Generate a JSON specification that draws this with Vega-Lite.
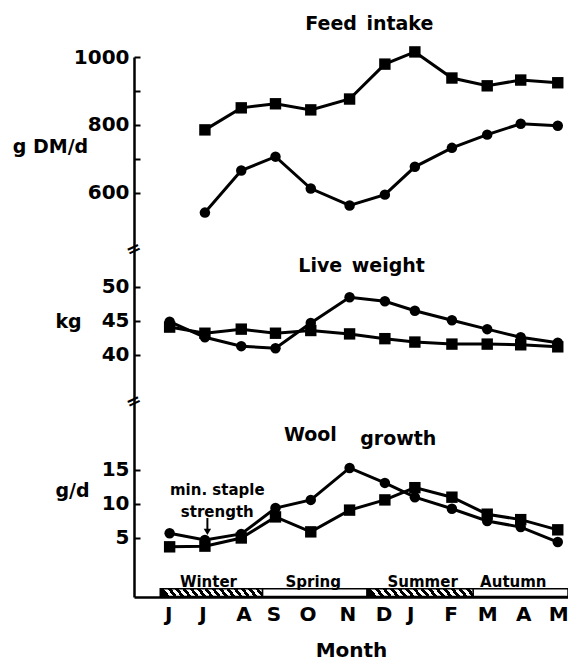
{
  "$schema": "https://vega.github.io/schema/vega-lite/v6.json",
  "width": 434,
  "height": 540,
  "autosize": {"type": "none"},
  "padding": {"left": 134, "top": 57, "right": 0, "bottom": 71},
  "background": "white",
  "config": {
    "view": {"stroke": null},
    "font": "DejaVu Sans",
    "axisX": {
      "domainColor": "black", "domainWidth": 2.5, "ticks": false, "grid": false,
      "labelFont": "DejaVu Sans", "labelFontWeight": "bold", "labelFontSize": 20, "labelColor": "black",
      "labelPadding": 7, "labelFlush": false, "labelOverlap": false,
      "titleFont": "DejaVu Sans", "titleFontWeight": "bold", "titleFontSize": 20, "titleColor": "black", "titlePadding": 16
    },
    "axisY": {
      "domainColor": "black", "domainWidth": 2.5, "grid": false,
      "tickColor": "black", "tickWidth": 2, "tickSize": -6,
      "labelFont": "DejaVu Sans", "labelFontWeight": "bold", "labelFontSize": 20, "labelColor": "black",
      "labelPadding": 11, "labelOverlap": false, "format": "d",
      "titleFont": "DejaVu Sans", "titleFontWeight": "bold", "titleFontSize": 19, "titleColor": "black",
      "titleAngle": 0, "titleAlign": "center", "titleBaseline": "middle"
    },
    "text": {"font": "DejaVu Sans", "fontWeight": "bold", "color": "black"},
    "line": {"color": "black", "strokeWidth": 3},
    "point": {"color": "black", "filled": true, "opacity": 1}
  },
  "datasets": {
    "d": [
      {"month": "Jun", "m": 0, "grp": "sq", "feed": null, "lw": 44.1, "wool": 3.7},
      {"month": "Jul", "m": 1, "grp": "sq", "feed": 785, "lw": 43.2, "wool": 3.8},
      {"month": "Aug", "m": 2.03, "grp": "sq", "feed": 850, "lw": 43.8, "wool": 5.0},
      {"month": "Sep", "m": 3, "grp": "sq", "feed": 862, "lw": 43.2, "wool": 8.1},
      {"month": "Oct", "m": 4, "grp": "sq", "feed": 844, "lw": 43.6, "wool": 5.9},
      {"month": "Nov", "m": 5.1, "grp": "sq", "feed": 876, "lw": 43.1, "wool": 9.1},
      {"month": "Dec", "m": 6.1, "grp": "sq", "feed": 979, "lw": 42.4, "wool": 10.6},
      {"month": "Jan", "m": 6.95, "grp": "sq", "feed": 1015, "lw": 41.9, "wool": 12.4},
      {"month": "Feb", "m": 8, "grp": "sq", "feed": 938, "lw": 41.6, "wool": 11.0},
      {"month": "Mar", "m": 9, "grp": "sq", "feed": 915, "lw": 41.6, "wool": 8.5},
      {"month": "Apr", "m": 9.95, "grp": "sq", "feed": 932, "lw": 41.5, "wool": 7.7},
      {"month": "May", "m": 11, "grp": "sq", "feed": 924, "lw": 41.2, "wool": 6.2},
      {"month": "Jun", "m": 0, "grp": "ci", "feed": null, "lw": 44.9, "wool": 5.7},
      {"month": "Jul", "m": 1, "grp": "ci", "feed": 541, "lw": 42.6, "wool": 4.7},
      {"month": "Aug", "m": 2.03, "grp": "ci", "feed": 665, "lw": 41.3, "wool": 5.6},
      {"month": "Sep", "m": 3, "grp": "ci", "feed": 706, "lw": 41.0, "wool": 9.4},
      {"month": "Oct", "m": 4, "grp": "ci", "feed": 612, "lw": 44.7, "wool": 10.6},
      {"month": "Nov", "m": 5.1, "grp": "ci", "feed": 562, "lw": 48.5, "wool": 15.3},
      {"month": "Dec", "m": 6.1, "grp": "ci", "feed": 594, "lw": 47.9, "wool": 13.1},
      {"month": "Jan", "m": 6.95, "grp": "ci", "feed": 676, "lw": 46.5, "wool": 11.0},
      {"month": "Feb", "m": 8, "grp": "ci", "feed": 732, "lw": 45.1, "wool": 9.3},
      {"month": "Mar", "m": 9, "grp": "ci", "feed": 771, "lw": 43.8, "wool": 7.5},
      {"month": "Apr", "m": 9.95, "grp": "ci", "feed": 803, "lw": 42.6, "wool": 6.6},
      {"month": "May", "m": 11, "grp": "ci", "feed": 797, "lw": 41.8, "wool": 4.4}
    ],
    "seasons": [
      {"season": "Winter", "s": -0.26, "e": 2.63, "mid": 1.1, "hatch": true},
      {"season": "Spring", "s": 2.63, "e": 5.6, "mid": 4.07, "hatch": false},
      {"season": "Summer", "s": 5.6, "e": 8.6, "mid": 7.17, "hatch": true},
      {"season": "Autumn", "s": 8.6, "e": 11.29, "mid": 9.74, "hatch": false}
    ]
  },
  "layer": [
    {
      "data": {"name": "seasons"},
      "mark": {"type": "rect", "fill": "white", "stroke": "black", "strokeWidth": 1.5},
      "encoding": {
        "x": {"field": "s", "type": "quantitative", "title": "Month", "scale": {"domain": [-1.01, 11.29], "nice": false, "zero": false},
          "axis": {"title": "Month", "labelOverlap": false, "labelFlush": false, "values": [-0.04, 0.93, 2.09, 2.94, 3.91, 5.04, 6.06, 6.82, 7.96, 9, 10.02, 11.01], "labelExpr": "['J','J','A','S','O','N','D','J','F','M','A','M'][indexof([-0.04, 0.93, 2.09, 2.94, 3.91, 5.04, 6.06, 6.82, 7.96, 9, 10.02, 11.01], datum.value)]"}},
        "x2": {"field": "e"},
        "y": {"datum": -2.45, "scale": {"domain": [-3.68, 75.74], "nice": false, "zero": false}, "axis": null},
        "y2": {"datum": -3.6}
      }
    },
    {
      "data": {"name": "seasons"},
      "transform": [{"filter": "datum.hatch"}],
      "mark": {
        "type": "rect", "stroke": "black", "strokeWidth": 1.5,
        "fill": {
          "gradient": "linear", "x1": 0, "y1": 0.06, "x2": 1, "y2": 0,
          "stops": [
            {"offset": 0, "color": "black"}, {"offset": 0.036, "color": "black"}, {"offset": 0.036, "color": "white"}, {"offset": 0.071, "color": "white"},
            {"offset": 0.071, "color": "black"}, {"offset": 0.107, "color": "black"}, {"offset": 0.107, "color": "white"}, {"offset": 0.143, "color": "white"},
            {"offset": 0.143, "color": "black"}, {"offset": 0.179, "color": "black"}, {"offset": 0.179, "color": "white"}, {"offset": 0.214, "color": "white"},
            {"offset": 0.214, "color": "black"}, {"offset": 0.25, "color": "black"}, {"offset": 0.25, "color": "white"}, {"offset": 0.286, "color": "white"},
            {"offset": 0.286, "color": "black"}, {"offset": 0.321, "color": "black"}, {"offset": 0.321, "color": "white"}, {"offset": 0.357, "color": "white"},
            {"offset": 0.357, "color": "black"}, {"offset": 0.393, "color": "black"}, {"offset": 0.393, "color": "white"}, {"offset": 0.429, "color": "white"},
            {"offset": 0.429, "color": "black"}, {"offset": 0.464, "color": "black"}, {"offset": 0.464, "color": "white"}, {"offset": 0.5, "color": "white"},
            {"offset": 0.5, "color": "black"}, {"offset": 0.536, "color": "black"}, {"offset": 0.536, "color": "white"}, {"offset": 0.571, "color": "white"},
            {"offset": 0.571, "color": "black"}, {"offset": 0.607, "color": "black"}, {"offset": 0.607, "color": "white"}, {"offset": 0.643, "color": "white"},
            {"offset": 0.643, "color": "black"}, {"offset": 0.679, "color": "black"}, {"offset": 0.679, "color": "white"}, {"offset": 0.714, "color": "white"},
            {"offset": 0.714, "color": "black"}, {"offset": 0.75, "color": "black"}, {"offset": 0.75, "color": "white"}, {"offset": 0.786, "color": "white"},
            {"offset": 0.786, "color": "black"}, {"offset": 0.821, "color": "black"}, {"offset": 0.821, "color": "white"}, {"offset": 0.857, "color": "white"},
            {"offset": 0.857, "color": "black"}, {"offset": 0.893, "color": "black"}, {"offset": 0.893, "color": "white"}, {"offset": 0.929, "color": "white"},
            {"offset": 0.929, "color": "black"}, {"offset": 0.964, "color": "black"}, {"offset": 0.964, "color": "white"}, {"offset": 1, "color": "white"}
          ]
        }
      },
      "encoding": {
        "x": {"field": "s", "type": "quantitative", "title": "Month", "scale": {"domain": [-1.01, 11.29], "nice": false, "zero": false},
          "axis": {"title": "Month", "labelOverlap": false, "labelFlush": false, "values": [-0.04, 0.93, 2.09, 2.94, 3.91, 5.04, 6.06, 6.82, 7.96, 9, 10.02, 11.01], "labelExpr": "['J','J','A','S','O','N','D','J','F','M','A','M'][indexof([-0.04, 0.93, 2.09, 2.94, 3.91, 5.04, 6.06, 6.82, 7.96, 9, 10.02, 11.01], datum.value)]"}},
        "x2": {"field": "e"},
        "y": {"datum": -2.45, "scale": {"domain": [-3.68, 75.74], "nice": false, "zero": false}, "axis": null},
        "y2": {"datum": -3.6}
      }
    },
    {
      "data": {"name": "seasons"},
      "mark": {"type": "text", "fontSize": 15, "baseline": "alphabetic"},
      "encoding": {
        "x": {"field": "mid", "type": "quantitative", "title": "Month", "scale": {"domain": [-1.01, 11.29], "nice": false, "zero": false},
          "axis": {"title": "Month", "labelOverlap": false, "labelFlush": false, "values": [-0.04, 0.93, 2.09, 2.94, 3.91, 5.04, 6.06, 6.82, 7.96, 9, 10.02, 11.01], "labelExpr": "['J','J','A','S','O','N','D','J','F','M','A','M'][indexof([-0.04, 0.93, 2.09, 2.94, 3.91, 5.04, 6.06, 6.82, 7.96, 9, 10.02, 11.01], datum.value)]"}},
        "y": {"datum": -2.2, "scale": {"domain": [-3.68, 75.74], "nice": false, "zero": false}, "axis": null},
        "text": {"field": "season"}
      }
    },
    {
      "data": {"name": "d"},
      "encoding": {
        "x": {"field": "m", "type": "quantitative", "title": "Month", "scale": {"domain": [-1.01, 11.29], "nice": false, "zero": false},
          "axis": {"title": "Month", "labelOverlap": false, "labelFlush": false, "values": [-0.04, 0.93, 2.09, 2.94, 3.91, 5.04, 6.06, 6.82, 7.96, 9, 10.02, 11.01], "labelExpr": "['J','J','A','S','O','N','D','J','F','M','A','M'][indexof([-0.04, 0.93, 2.09, 2.94, 3.91, 5.04, 6.06, 6.82, 7.96, 9, 10.02, 11.01], datum.value)]"}},
        "y": {
          "field": "feed", "type": "quantitative",
          "scale": {"domain": [-593, 1000], "nice": false, "zero": false},
          "axis": {
            "orient": "left", "values": [600, 700, 800, 900, 1000],
            "labelExpr": "datum.value % 200 === 0 ? datum.label : ''",
            "title": "g DM/d", "titleX": -84, "titleY": 89
          }
        }
      },
      "layer": [
        {"transform": [{"filter": "isValid(datum.feed)"}], "mark": "line", "encoding": {"detail": {"field": "grp"}}},
        {
          "transform": [{"filter": "isValid(datum.feed)"}],
          "mark": "point",
          "encoding": {
            "shape": {"field": "grp", "scale": {"domain": ["sq", "ci"], "range": ["square", "circle"]}, "legend": null},
            "size": {"field": "grp", "scale": {"domain": ["sq", "ci"], "range": [130, 110]}, "legend": null}
          }
        }
      ]
    },
    {
      "data": {"name": "d"},
      "encoding": {
        "x": {"field": "m", "type": "quantitative", "title": "Month", "scale": {"domain": [-1.01, 11.29], "nice": false, "zero": false},
          "axis": {"title": "Month", "labelOverlap": false, "labelFlush": false, "values": [-0.04, 0.93, 2.09, 2.94, 3.91, 5.04, 6.06, 6.82, 7.96, 9, 10.02, 11.01], "labelExpr": "['J','J','A','S','O','N','D','J','F','M','A','M'][indexof([-0.04, 0.93, 2.09, 2.94, 3.91, 5.04, 6.06, 6.82, 7.96, 9, 10.02, 11.01], datum.value)]"}},
        "y": {
          "field": "lw", "type": "quantitative",
          "scale": {"domain": [4.41, 83.82], "nice": false, "zero": false},
          "axis": {"orient": "left", "values": [40, 45, 50], "domain": false, "title": "kg", "titleX": -66, "titleY": 264}
        }
      },
      "layer": [
        {"mark": "line", "encoding": {"detail": {"field": "grp"}}},
        {
          "mark": "point",
          "encoding": {
            "shape": {"field": "grp", "scale": {"domain": ["sq", "ci"], "range": ["square", "circle"]}, "legend": null},
            "size": {"field": "grp", "scale": {"domain": ["sq", "ci"], "range": [130, 110]}, "legend": null}
          }
        }
      ]
    },
    {
      "data": {"name": "d"},
      "encoding": {
        "x": {"field": "m", "type": "quantitative", "title": "Month", "scale": {"domain": [-1.01, 11.29], "nice": false, "zero": false},
          "axis": {"title": "Month", "labelOverlap": false, "labelFlush": false, "values": [-0.04, 0.93, 2.09, 2.94, 3.91, 5.04, 6.06, 6.82, 7.96, 9, 10.02, 11.01], "labelExpr": "['J','J','A','S','O','N','D','J','F','M','A','M'][indexof([-0.04, 0.93, 2.09, 2.94, 3.91, 5.04, 6.06, 6.82, 7.96, 9, 10.02, 11.01], datum.value)]"}},
        "y": {
          "field": "wool", "type": "quantitative",
          "scale": {"domain": [-3.68, 75.74], "nice": false, "zero": false},
          "axis": {"orient": "left", "values": [5, 10, 15], "domain": false, "title": "g/d", "titleX": -62, "titleY": 433}
        }
      },
      "layer": [
        {"mark": "line", "encoding": {"detail": {"field": "grp"}}},
        {
          "mark": "point",
          "encoding": {
            "shape": {"field": "grp", "scale": {"domain": ["sq", "ci"], "range": ["square", "circle"]}, "legend": null},
            "size": {"field": "grp", "scale": {"domain": ["sq", "ci"], "range": [130, 110]}, "legend": null}
          }
        }
      ]
    },
    {
      "data": {"values": [{"t": "Feed\u2002intake"}]},
      "mark": {"type": "text", "fontSize": 19},
      "encoding": {
        "x": {"datum": 5.66, "title": "Month", "scale": {"domain": [-1.01, 11.29], "nice": false, "zero": false},
          "axis": {"title": "Month", "labelOverlap": false, "labelFlush": false, "values": [-0.04, 0.93, 2.09, 2.94, 3.91, 5.04, 6.06, 6.82, 7.96, 9, 10.02, 11.01], "labelExpr": "['J','J','A','S','O','N','D','J','F','M','A','M'][indexof([-0.04, 0.93, 2.09, 2.94, 3.91, 5.04, 6.06, 6.82, 7.96, 9, 10.02, 11.01], datum.value)]"}},
        "y": {"datum": 1097, "scale": {"domain": [-593, 1000], "nice": false, "zero": false}, "axis": null},
        "text": {"field": "t"}
      }
    },
    {
      "data": {"values": [{"t": "Live\u2002weight"}]},
      "mark": {"type": "text", "fontSize": 19},
      "encoding": {
        "x": {"datum": 5.44, "title": "Month", "scale": {"domain": [-1.01, 11.29], "nice": false, "zero": false},
          "axis": {"title": "Month", "labelOverlap": false, "labelFlush": false, "values": [-0.04, 0.93, 2.09, 2.94, 3.91, 5.04, 6.06, 6.82, 7.96, 9, 10.02, 11.01], "labelExpr": "['J','J','A','S','O','N','D','J','F','M','A','M'][indexof([-0.04, 0.93, 2.09, 2.94, 3.91, 5.04, 6.06, 6.82, 7.96, 9, 10.02, 11.01], datum.value)]"}},
        "y": {"datum": 53.1, "scale": {"domain": [4.41, 83.82], "nice": false, "zero": false}, "axis": null},
        "text": {"field": "t"}
      }
    },
    {
      "data": {"values": [{"t": "Wool"}]},
      "mark": {"type": "text", "fontSize": 19},
      "encoding": {
        "x": {"datum": 3.99, "title": "Month", "scale": {"domain": [-1.01, 11.29], "nice": false, "zero": false},
          "axis": {"title": "Month", "labelOverlap": false, "labelFlush": false, "values": [-0.04, 0.93, 2.09, 2.94, 3.91, 5.04, 6.06, 6.82, 7.96, 9, 10.02, 11.01], "labelExpr": "['J','J','A','S','O','N','D','J','F','M','A','M'][indexof([-0.04, 0.93, 2.09, 2.94, 3.91, 5.04, 6.06, 6.82, 7.96, 9, 10.02, 11.01], datum.value)]"}},
        "y": {"datum": 20.2, "scale": {"domain": [-3.68, 75.74], "nice": false, "zero": false}, "axis": null},
        "text": {"field": "t"}
      }
    },
    {
      "data": {"values": [{"t": "growth"}]},
      "mark": {"type": "text", "fontSize": 19},
      "encoding": {
        "x": {"datum": 6.48, "title": "Month", "scale": {"domain": [-1.01, 11.29], "nice": false, "zero": false},
          "axis": {"title": "Month", "labelOverlap": false, "labelFlush": false, "values": [-0.04, 0.93, 2.09, 2.94, 3.91, 5.04, 6.06, 6.82, 7.96, 9, 10.02, 11.01], "labelExpr": "['J','J','A','S','O','N','D','J','F','M','A','M'][indexof([-0.04, 0.93, 2.09, 2.94, 3.91, 5.04, 6.06, 6.82, 7.96, 9, 10.02, 11.01], datum.value)]"}},
        "y": {"datum": 19.6, "scale": {"domain": [-3.68, 75.74], "nice": false, "zero": false}, "axis": null},
        "text": {"field": "t"}
      }
    },
    {
      "data": {"values": [{"t": ["min. staple", "strength"]}]},
      "mark": {"type": "text", "fontSize": 15, "lineHeight": 22},
      "encoding": {
        "x": {"datum": 1.35, "title": "Month", "scale": {"domain": [-1.01, 11.29], "nice": false, "zero": false},
          "axis": {"title": "Month", "labelOverlap": false, "labelFlush": false, "values": [-0.04, 0.93, 2.09, 2.94, 3.91, 5.04, 6.06, 6.82, 7.96, 9, 10.02, 11.01], "labelExpr": "['J','J','A','S','O','N','D','J','F','M','A','M'][indexof([-0.04, 0.93, 2.09, 2.94, 3.91, 5.04, 6.06, 6.82, 7.96, 9, 10.02, 11.01], datum.value)]"}},
        "y": {"datum": 12.06, "scale": {"domain": [-3.68, 75.74], "nice": false, "zero": false}, "axis": null},
        "text": {"field": "t"}
      }
    },
    {
      "data": {"values": [{"t": "arrow"}]},
      "mark": {"type": "rule", "color": "black", "strokeWidth": 2},
      "encoding": {
        "x": {"datum": 1.07, "title": "Month", "scale": {"domain": [-1.01, 11.29], "nice": false, "zero": false},
          "axis": {"title": "Month", "labelOverlap": false, "labelFlush": false, "values": [-0.04, 0.93, 2.09, 2.94, 3.91, 5.04, 6.06, 6.82, 7.96, 9, 10.02, 11.01], "labelExpr": "['J','J','A','S','O','N','D','J','F','M','A','M'][indexof([-0.04, 0.93, 2.09, 2.94, 3.91, 5.04, 6.06, 6.82, 7.96, 9, 10.02, 11.01], datum.value)]"}},
        "y": {"datum": 7.94, "scale": {"domain": [-3.68, 75.74], "nice": false, "zero": false}, "axis": null},
        "y2": {"datum": 6.1}
      }
    },
    {
      "data": {"values": [{"t": "arrow"}]},
      "mark": {"type": "point", "shape": "triangle-down", "size": 55, "filled": true, "color": "black"},
      "encoding": {
        "x": {"datum": 1.07, "title": "Month", "scale": {"domain": [-1.01, 11.29], "nice": false, "zero": false},
          "axis": {"title": "Month", "labelOverlap": false, "labelFlush": false, "values": [-0.04, 0.93, 2.09, 2.94, 3.91, 5.04, 6.06, 6.82, 7.96, 9, 10.02, 11.01], "labelExpr": "['J','J','A','S','O','N','D','J','F','M','A','M'][indexof([-0.04, 0.93, 2.09, 2.94, 3.91, 5.04, 6.06, 6.82, 7.96, 9, 10.02, 11.01], datum.value)]"}},
        "y": {"datum": 5.9, "scale": {"domain": [-3.68, 75.74], "nice": false, "zero": false}, "axis": null}
      }
    },
    {
      "data": {"values": [{"t": "="}]},
      "mark": {"type": "text", "fontSize": 18, "angle": -25},
      "encoding": {
        "x": {"datum": -1.01, "title": "Month", "scale": {"domain": [-1.01, 11.29], "nice": false, "zero": false},
          "axis": {"title": "Month", "labelOverlap": false, "labelFlush": false, "values": [-0.04, 0.93, 2.09, 2.94, 3.91, 5.04, 6.06, 6.82, 7.96, 9, 10.02, 11.01], "labelExpr": "['J','J','A','S','O','N','D','J','F','M','A','M'][indexof([-0.04, 0.93, 2.09, 2.94, 3.91, 5.04, 6.06, 6.82, 7.96, 9, 10.02, 11.01], datum.value)]"}},
        "y": {"datum": 25, "scale": {"domain": [-3.68, 75.74], "nice": false, "zero": false}, "axis": null},
        "text": {"field": "t"}
      }
    },
    {
      "data": {"values": [{"t": "="}]},
      "mark": {"type": "text", "fontSize": 18, "angle": -25},
      "encoding": {
        "x": {"datum": -1.01, "title": "Month", "scale": {"domain": [-1.01, 11.29], "nice": false, "zero": false},
          "axis": {"title": "Month", "labelOverlap": false, "labelFlush": false, "values": [-0.04, 0.93, 2.09, 2.94, 3.91, 5.04, 6.06, 6.82, 7.96, 9, 10.02, 11.01], "labelExpr": "['J','J','A','S','O','N','D','J','F','M','A','M'][indexof([-0.04, 0.93, 2.09, 2.94, 3.91, 5.04, 6.06, 6.82, 7.96, 9, 10.02, 11.01], datum.value)]"}},
        "y": {"datum": 431, "scale": {"domain": [-593, 1000], "nice": false, "zero": false}, "axis": null},
        "text": {"field": "t"}
      }
    }
  ],
  "resolve": {"scale": {"y": "independent"}, "axis": {"y": "independent"}}
}
